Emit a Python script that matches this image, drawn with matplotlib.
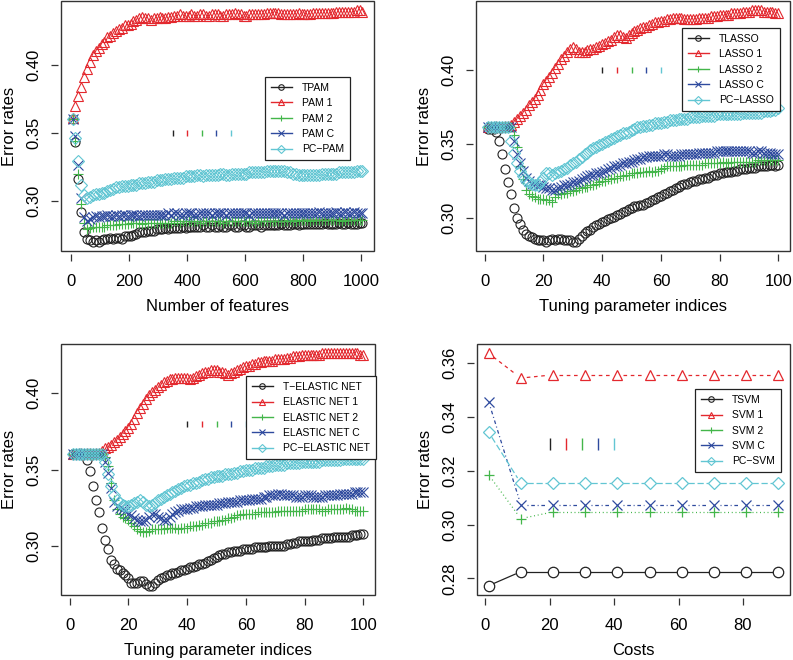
import numpy as np
import matplotlib
matplotlib.use("Agg")
import matplotlib.pyplot as plt
from matplotlib.lines import Line2D
from matplotlib.patches import Rectangle

plt.rcParams["font.family"] = ["Liberation Sans", "DejaVu Sans"]

W, H = 793, 660
FRAME = "#333333"
COLORS = ["#222222", "#E3282E", "#43B64A", "#2E4A9E", "#62C6D3"]
MARKERS = ["o", "^", "+", "x", "D"]

# ---------------------------------------------------------------- data
# panel 1: PAM family vs number of features
FEATURES = list(range(5, 1006, 10))
TPAM = [
    0.360, 0.343, 0.316, 0.292, 0.277, 0.272, 0.271, 0.270, 0.271, 0.270,
    0.271, 0.272, 0.272, 0.273, 0.272, 0.273, 0.273, 0.272, 0.274, 0.274,
    0.274, 0.275, 0.276, 0.277, 0.277, 0.277, 0.278, 0.278, 0.278, 0.279,
    0.279, 0.279, 0.280, 0.279, 0.280, 0.280, 0.280, 0.280, 0.281, 0.280,
    0.281, 0.281, 0.281, 0.281, 0.281, 0.282, 0.281, 0.281, 0.282, 0.281,
    0.281, 0.282, 0.281, 0.281, 0.282, 0.282, 0.281, 0.281, 0.282, 0.282,
    0.281, 0.281, 0.282, 0.282, 0.282, 0.281, 0.282, 0.282, 0.282, 0.282,
    0.282, 0.282, 0.283, 0.282, 0.282, 0.282, 0.283, 0.283, 0.282, 0.283,
    0.283, 0.283, 0.283, 0.283, 0.283, 0.283, 0.283, 0.284, 0.283, 0.283,
    0.283, 0.283, 0.284, 0.283, 0.283, 0.284, 0.283, 0.283, 0.283, 0.284,
    0.284]
PAM1 = [
    0.361, 0.370, 0.377, 0.384, 0.391, 0.397, 0.402, 0.407, 0.410, 0.412,
    0.415, 0.417, 0.420, 0.421, 0.423, 0.425, 0.426, 0.427, 0.429, 0.429,
    0.430, 0.432, 0.433, 0.434, 0.435, 0.434, 0.434, 0.433, 0.434, 0.434,
    0.435, 0.434, 0.434, 0.435, 0.435, 0.436, 0.436, 0.437, 0.436, 0.436,
    0.436, 0.437, 0.436, 0.436, 0.437, 0.437, 0.436, 0.436, 0.437, 0.437,
    0.437, 0.436, 0.436, 0.437, 0.437, 0.437, 0.438, 0.437, 0.437, 0.436,
    0.436, 0.437, 0.437, 0.437, 0.437, 0.437, 0.437, 0.438, 0.438, 0.438,
    0.438, 0.438, 0.437, 0.437, 0.437, 0.437, 0.437, 0.437, 0.438, 0.437,
    0.437, 0.437, 0.437, 0.438, 0.438, 0.438, 0.438, 0.438, 0.438, 0.438,
    0.438, 0.439, 0.439, 0.439, 0.439, 0.439, 0.439, 0.439, 0.440, 0.440,
    0.439]
PAM2 = [
    0.360, 0.344, 0.320, 0.298, 0.284, 0.279, 0.280, 0.281, 0.281, 0.281,
    0.281, 0.281, 0.282, 0.282, 0.282, 0.282, 0.283, 0.283, 0.283, 0.283,
    0.284, 0.284, 0.284, 0.284, 0.283, 0.284, 0.284, 0.284, 0.284, 0.284,
    0.284, 0.284, 0.284, 0.284, 0.284, 0.285, 0.285, 0.284, 0.285, 0.285,
    0.285, 0.285, 0.285, 0.285, 0.284, 0.285, 0.285, 0.285, 0.285, 0.285,
    0.285, 0.285, 0.284, 0.285, 0.285, 0.285, 0.285, 0.285, 0.285, 0.285,
    0.285, 0.285, 0.285, 0.284, 0.285, 0.285, 0.285, 0.285, 0.285, 0.285,
    0.285, 0.285, 0.285, 0.285, 0.285, 0.286, 0.285, 0.285, 0.286, 0.286,
    0.286, 0.286, 0.285, 0.286, 0.286, 0.286, 0.286, 0.286, 0.286, 0.286,
    0.286, 0.286, 0.286, 0.285, 0.286, 0.286, 0.286, 0.286, 0.286, 0.286,
    0.286]
PAMC = [
    0.360, 0.348, 0.326, 0.302, 0.288, 0.285, 0.287, 0.288, 0.289, 0.288,
    0.289, 0.289, 0.290, 0.289, 0.289, 0.290, 0.289, 0.290, 0.290, 0.289,
    0.290, 0.290, 0.290, 0.289, 0.290, 0.290, 0.290, 0.290, 0.290, 0.290,
    0.290, 0.290, 0.290, 0.291, 0.290, 0.291, 0.291, 0.290, 0.290, 0.291,
    0.291, 0.291, 0.290, 0.290, 0.291, 0.291, 0.291, 0.291, 0.290, 0.291,
    0.291, 0.291, 0.291, 0.290, 0.291, 0.291, 0.291, 0.291, 0.291, 0.291,
    0.291, 0.290, 0.291, 0.291, 0.291, 0.291, 0.291, 0.291, 0.291, 0.291,
    0.291, 0.291, 0.291, 0.290, 0.291, 0.291, 0.291, 0.291, 0.291, 0.291,
    0.291, 0.291, 0.291, 0.291, 0.291, 0.292, 0.291, 0.291, 0.291, 0.291,
    0.291, 0.292, 0.291, 0.291, 0.292, 0.291, 0.291, 0.292, 0.291, 0.291,
    0.291]
PCPAM = [
    0.360, 0.346, 0.329, 0.312, 0.304, 0.302, 0.303, 0.304, 0.305, 0.305,
    0.306, 0.306, 0.307, 0.308, 0.309, 0.310, 0.310, 0.311, 0.311, 0.311,
    0.312, 0.312, 0.312, 0.313, 0.313, 0.313, 0.314, 0.314, 0.314, 0.315,
    0.315, 0.315, 0.316, 0.316, 0.316, 0.317, 0.317, 0.317, 0.317, 0.318,
    0.318, 0.318, 0.318, 0.319, 0.319, 0.318, 0.319, 0.319, 0.319, 0.319,
    0.319, 0.320, 0.320, 0.319, 0.319, 0.320, 0.320, 0.320, 0.320, 0.320,
    0.320, 0.321, 0.321, 0.321, 0.321, 0.321, 0.321, 0.322, 0.322, 0.322,
    0.322, 0.322, 0.322, 0.322, 0.321, 0.321, 0.320, 0.320, 0.319, 0.319,
    0.319, 0.319, 0.319, 0.319, 0.319, 0.319, 0.320, 0.320, 0.320, 0.320,
    0.320, 0.320, 0.321, 0.321, 0.321, 0.321, 0.321, 0.321, 0.322, 0.322,
    0.322]

# panel 2: LASSO family vs tuning parameter index
INDICES = list(range(1, 101))
TLASSO = [
    0.360, 0.360, 0.360, 0.358, 0.352, 0.343, 0.333, 0.324, 0.316, 0.307,
    0.300, 0.296, 0.292, 0.289, 0.288, 0.287, 0.286, 0.285, 0.285, 0.285,
    0.284, 0.285, 0.286, 0.285, 0.286, 0.286, 0.285, 0.285, 0.285, 0.284,
    0.284, 0.286, 0.288, 0.290, 0.291, 0.292, 0.294, 0.295, 0.296, 0.297,
    0.298, 0.299, 0.300, 0.301, 0.302, 0.303, 0.304, 0.305, 0.306, 0.307,
    0.308, 0.308, 0.309, 0.309, 0.310, 0.311, 0.312, 0.313, 0.314, 0.315,
    0.316, 0.317, 0.318, 0.319, 0.320, 0.321, 0.322, 0.323, 0.323, 0.324,
    0.325, 0.325, 0.326, 0.326, 0.327, 0.327, 0.328, 0.329, 0.329, 0.330,
    0.330, 0.331, 0.331, 0.331, 0.332, 0.332, 0.333, 0.333, 0.333, 0.334,
    0.334, 0.334, 0.335, 0.335, 0.335, 0.335, 0.336, 0.336, 0.335, 0.336]
LASSO1 = [
    0.361, 0.361, 0.361, 0.362, 0.361, 0.361, 0.362, 0.362, 0.363, 0.365,
    0.367, 0.369, 0.371, 0.373, 0.376, 0.378, 0.380, 0.383, 0.386, 0.390,
    0.392, 0.395, 0.398, 0.401, 0.404, 0.407, 0.409, 0.412, 0.414, 0.415,
    0.414, 0.412, 0.412, 0.412, 0.413, 0.414, 0.414, 0.415, 0.416, 0.417,
    0.418, 0.419, 0.420, 0.422, 0.423, 0.423, 0.422, 0.421, 0.423, 0.425,
    0.426, 0.427, 0.428, 0.429, 0.429, 0.430, 0.431, 0.432, 0.432, 0.433,
    0.433, 0.434, 0.434, 0.435, 0.435, 0.435, 0.435, 0.434, 0.434, 0.434,
    0.434, 0.434, 0.435, 0.435, 0.435, 0.435, 0.436, 0.436, 0.436, 0.437,
    0.437, 0.437, 0.437, 0.438, 0.438, 0.438, 0.438, 0.439, 0.439, 0.439,
    0.440, 0.440, 0.440, 0.440, 0.439, 0.439, 0.439, 0.439, 0.438, 0.438]
LASSO2 = [
    0.361, 0.361, 0.361, 0.361, 0.361, 0.361, 0.361, 0.361, 0.361, 0.356,
    0.348, 0.335, 0.326, 0.319, 0.316, 0.315, 0.314, 0.313, 0.313, 0.313,
    0.312, 0.312, 0.311, 0.314, 0.316, 0.316, 0.317, 0.317, 0.318, 0.318,
    0.319, 0.320, 0.320, 0.321, 0.321, 0.322, 0.322, 0.323, 0.324, 0.325,
    0.325, 0.326, 0.326, 0.327, 0.327, 0.328, 0.328, 0.329, 0.329, 0.330,
    0.330, 0.330, 0.331, 0.331, 0.331, 0.332, 0.331, 0.332, 0.332, 0.333,
    0.334, 0.335, 0.335, 0.335, 0.335, 0.335, 0.335, 0.336, 0.336, 0.336,
    0.336, 0.336, 0.336, 0.336, 0.337, 0.337, 0.337, 0.337, 0.337, 0.337,
    0.338, 0.337, 0.337, 0.338, 0.338, 0.338, 0.338, 0.338, 0.338, 0.338,
    0.338, 0.338, 0.339, 0.339, 0.339, 0.339, 0.339, 0.339, 0.339, 0.339]
LASSOC = [
    0.361, 0.361, 0.361, 0.361, 0.361, 0.361, 0.361, 0.361, 0.361, 0.352,
    0.343, 0.337, 0.332, 0.327, 0.325, 0.323, 0.323, 0.322, 0.322, 0.321,
    0.320, 0.320, 0.319, 0.319, 0.320, 0.321, 0.322, 0.322, 0.323, 0.324,
    0.324, 0.325, 0.326, 0.327, 0.328, 0.329, 0.329, 0.330, 0.330, 0.331,
    0.332, 0.333, 0.334, 0.335, 0.335, 0.336, 0.337, 0.337, 0.338, 0.338,
    0.339, 0.340, 0.340, 0.341, 0.341, 0.342, 0.342, 0.342, 0.342, 0.342,
    0.343, 0.343, 0.342, 0.342, 0.342, 0.342, 0.343, 0.343, 0.343, 0.343,
    0.343, 0.343, 0.344, 0.344, 0.344, 0.344, 0.344, 0.344, 0.345, 0.345,
    0.345, 0.345, 0.345, 0.345, 0.345, 0.345, 0.345, 0.345, 0.345, 0.345,
    0.344, 0.344, 0.345, 0.345, 0.344, 0.344, 0.344, 0.343, 0.343, 0.343]
PCLASSO = [
    0.361, 0.361, 0.361, 0.361, 0.361, 0.361, 0.361, 0.361, 0.352, 0.344,
    0.337, 0.332, 0.328, 0.325, 0.324, 0.323, 0.322, 0.322, 0.324, 0.327,
    0.330, 0.330, 0.329, 0.330, 0.331, 0.332, 0.333, 0.334, 0.336, 0.337,
    0.338, 0.340, 0.341, 0.343, 0.344, 0.346, 0.347, 0.348, 0.349, 0.350,
    0.351, 0.352, 0.353, 0.354, 0.355, 0.356, 0.357, 0.357, 0.358, 0.359,
    0.360, 0.361, 0.361, 0.362, 0.362, 0.363, 0.363, 0.364, 0.364, 0.364,
    0.365, 0.365, 0.366, 0.366, 0.366, 0.367, 0.367, 0.367, 0.367, 0.368,
    0.368, 0.368, 0.368, 0.369, 0.369, 0.369, 0.369, 0.369, 0.370, 0.370,
    0.370, 0.370, 0.370, 0.370, 0.370, 0.370, 0.370, 0.371, 0.371, 0.371,
    0.371, 0.371, 0.371, 0.371, 0.372, 0.372, 0.372, 0.373, 0.373, 0.374]

# panel 3: elastic net family vs tuning parameter index
TEN = [
    0.360, 0.360, 0.360, 0.360, 0.360, 0.356, 0.349, 0.339, 0.330, 0.322,
    0.312, 0.304, 0.298, 0.291, 0.288, 0.285, 0.284, 0.282, 0.281, 0.279,
    0.276, 0.276, 0.276, 0.277, 0.277, 0.275, 0.274, 0.274, 0.276, 0.278,
    0.279, 0.280, 0.281, 0.281, 0.282, 0.282, 0.283, 0.284, 0.284, 0.285,
    0.286, 0.286, 0.287, 0.288, 0.288, 0.289, 0.290, 0.291, 0.292, 0.293,
    0.294, 0.295, 0.295, 0.296, 0.296, 0.297, 0.297, 0.297, 0.298, 0.298,
    0.298, 0.298, 0.299, 0.299, 0.299, 0.299, 0.299, 0.300, 0.300, 0.300,
    0.300, 0.300, 0.300, 0.301, 0.301, 0.302, 0.302, 0.303, 0.303, 0.303,
    0.303, 0.303, 0.304, 0.304, 0.304, 0.305, 0.305, 0.305, 0.305, 0.306,
    0.306, 0.306, 0.306, 0.306, 0.306, 0.307, 0.307, 0.307, 0.308, 0.308]
EN1 = [
    0.360, 0.360, 0.361, 0.361, 0.360, 0.361, 0.361, 0.360, 0.361, 0.361,
    0.362, 0.364, 0.365, 0.366, 0.368, 0.369, 0.371, 0.373, 0.375, 0.377,
    0.380, 0.383, 0.387, 0.390, 0.393, 0.396, 0.399, 0.401, 0.402, 0.404,
    0.405, 0.407, 0.408, 0.409, 0.409, 0.410, 0.410, 0.410, 0.410, 0.410,
    0.409, 0.410, 0.411, 0.412, 0.413, 0.414, 0.414, 0.415, 0.415, 0.415,
    0.414, 0.414, 0.413, 0.412, 0.413, 0.414, 0.415, 0.416, 0.417, 0.418,
    0.418, 0.419, 0.419, 0.420, 0.420, 0.421, 0.421, 0.421, 0.421, 0.422,
    0.422, 0.422, 0.422, 0.423, 0.423, 0.424, 0.424, 0.424, 0.425, 0.425,
    0.425, 0.425, 0.425, 0.425, 0.425, 0.426, 0.426, 0.426, 0.426, 0.426,
    0.426, 0.426, 0.426, 0.426, 0.426, 0.426, 0.426, 0.426, 0.425, 0.425]
EN2 = [
    0.360, 0.360, 0.360, 0.360, 0.360, 0.360, 0.360, 0.360, 0.360, 0.360,
    0.360, 0.358, 0.352, 0.341, 0.330, 0.324, 0.321, 0.319, 0.318, 0.317,
    0.315, 0.313, 0.311, 0.310, 0.309, 0.309, 0.310, 0.311, 0.311, 0.311,
    0.311, 0.311, 0.312, 0.312, 0.312, 0.312, 0.311, 0.312, 0.312, 0.312,
    0.313, 0.313, 0.313, 0.314, 0.314, 0.315, 0.315, 0.315, 0.316, 0.316,
    0.316, 0.317, 0.317, 0.318, 0.318, 0.319, 0.320, 0.320, 0.321, 0.321,
    0.321, 0.321, 0.321, 0.322, 0.322, 0.322, 0.322, 0.322, 0.322, 0.322,
    0.323, 0.323, 0.323, 0.323, 0.323, 0.323, 0.323, 0.323, 0.323, 0.324,
    0.324, 0.324, 0.324, 0.324, 0.324, 0.323, 0.323, 0.324, 0.324, 0.324,
    0.324, 0.324, 0.324, 0.325, 0.324, 0.324, 0.323, 0.323, 0.323, 0.323]
ENC = [
    0.360, 0.360, 0.360, 0.360, 0.360, 0.360, 0.360, 0.360, 0.360, 0.360,
    0.360, 0.355, 0.348, 0.338, 0.329, 0.326, 0.325, 0.324, 0.323, 0.321,
    0.320, 0.318, 0.317, 0.316, 0.316, 0.317, 0.319, 0.321, 0.321, 0.319,
    0.318, 0.317, 0.317, 0.319, 0.321, 0.322, 0.323, 0.324, 0.324, 0.324,
    0.325, 0.325, 0.326, 0.326, 0.326, 0.327, 0.327, 0.327, 0.327, 0.327,
    0.328, 0.328, 0.328, 0.329, 0.329, 0.329, 0.329, 0.330, 0.330, 0.330,
    0.330, 0.331, 0.331, 0.331, 0.331, 0.332, 0.332, 0.333, 0.333, 0.333,
    0.334, 0.334, 0.333, 0.333, 0.333, 0.333, 0.332, 0.332, 0.332, 0.333,
    0.333, 0.333, 0.332, 0.332, 0.332, 0.332, 0.333, 0.333, 0.333, 0.333,
    0.333, 0.334, 0.334, 0.334, 0.334, 0.334, 0.335, 0.335, 0.335, 0.335]
PCEN = [
    0.360, 0.360, 0.360, 0.360, 0.360, 0.360, 0.360, 0.360, 0.360, 0.360,
    0.360, 0.355, 0.347, 0.339, 0.333, 0.330, 0.328, 0.327, 0.326, 0.326,
    0.327, 0.328, 0.329, 0.330, 0.329, 0.327, 0.326, 0.327, 0.328, 0.330,
    0.331, 0.332, 0.333, 0.334, 0.335, 0.336, 0.337, 0.338, 0.339, 0.340,
    0.340, 0.341, 0.341, 0.342, 0.343, 0.344, 0.344, 0.345, 0.345, 0.346,
    0.346, 0.346, 0.347, 0.347, 0.347, 0.348, 0.348, 0.349, 0.349, 0.350,
    0.350, 0.350, 0.351, 0.351, 0.351, 0.351, 0.352, 0.352, 0.352, 0.353,
    0.353, 0.353, 0.353, 0.354, 0.354, 0.354, 0.354, 0.354, 0.355, 0.355,
    0.355, 0.355, 0.355, 0.355, 0.355, 0.356, 0.356, 0.356, 0.356, 0.356,
    0.356, 0.356, 0.357, 0.357, 0.357, 0.357, 0.357, 0.357, 0.357, 0.357]

# panel 4: SVM family vs costs
COSTS = [1, 11, 21, 31, 41, 51, 61, 71, 81, 91]
TSVM = [0.2773, 0.2825, 0.2825, 0.2825, 0.2825, 0.2825, 0.2825, 0.2825, 0.2825, 0.2825]
SVM1 = [0.3636, 0.3544, 0.3556, 0.3556, 0.3556, 0.3556, 0.3556, 0.3556, 0.3556, 0.3556]
SVM2 = [0.3185, 0.3022, 0.3047, 0.3047, 0.3047, 0.3047, 0.3047, 0.3047, 0.3047, 0.3047]
SVMC = [0.3457, 0.3074, 0.3074, 0.3074, 0.3074, 0.3074, 0.3074, 0.3074, 0.3074, 0.3074]
PCSVM = [0.3343, 0.3154, 0.3154, 0.3154, 0.3154, 0.3154, 0.3154, 0.3154, 0.3154, 0.3154]

# stray colour ticks printed inside each panel
MARK_X1, MARK_Y1 = [350, 400, 450, 500, 550], 0.35
MARK_X2, MARK_Y2 = [40, 45, 50, 55, 60], 0.40
MARK_X3, MARK_Y3 = [40, 45, 50, 55, 60], 0.38
MARK_X4, MARK_Y4 = [20, 25, 30, 35, 40], 0.33

LAB1 = ["TPAM", "PAM 1", "PAM 2", "PAM C", "PC\u2212PAM"]
LAB2 = ["TLASSO", "LASSO 1", "LASSO 2", "LASSO C", "PC\u2212LASSO"]
LAB3 = ["T\u2212ELASTIC NET", "ELASTIC NET 1", "ELASTIC NET 2",
        "ELASTIC NET C", "PC\u2212ELASTIC NET"]
LAB4 = ["TSVM", "SVM 1", "SVM 2", "SVM C", "PC\u2212SVM"]

# R line types 1..5
LTYS = ["-", (0, (2.9, 2.9)), (0, (0.8, 2.2)), (0, (0.8, 2.2, 2.9, 2.2)),
        (0, (5.0, 2.2))]
MSIZE = [6.5, 7.5, 7.5, 6.5, 5.8]

fig = plt.figure(figsize=(W / 100, H / 100), dpi=100)


def panel(l, t, r, b):
    return fig.add_axes([l / W, 1 - b / H, (r - l) / W, (b - t) / H])


def rlim(vals):
    lo, hi = min(vals), max(vals)
    pad = 0.04 * (hi - lo)
    return lo - pad, hi + pad


def style(ax, xticks, yticks, xlabel):
    for s in ax.spines.values():
        s.set_visible(False)
    ax.spines["left"].set_position(("outward", 2.5))
    ax.spines["bottom"].set_position(("outward", 2.5))
    ax.add_patch(Rectangle((0, 0), 1, 1, transform=ax.transAxes, fill=False,
                           ec=FRAME, lw=1.0, clip_on=False, zorder=6))
    ax.set_xticks(xticks)
    ax.set_yticks(yticks)
    ax.set_yticklabels([f"{v:.2f}" for v in yticks], rotation=90, va="center")
    ax.tick_params(direction="out", length=5, width=0.9, color=FRAME,
                   labelsize=12)
    ax.tick_params(axis="x", pad=9)
    ax.tick_params(axis="y", pad=6.5)
    ax.set_xlabel(xlabel, fontsize=12, labelpad=7)
    ax.set_ylabel("Error rates", fontsize=12, labelpad=7)


def legend(ax, labels, left, top):
    handles = [Line2D([0], [0], color=c, marker=m, ms=4, mfc="none", mew=0.8,
                      lw=1.0) for c, m in zip(COLORS, MARKERS)]
    leg = ax.legend(handles, labels, loc="upper left",
                    bbox_to_anchor=(left / W, 1 - top / H),
                    bbox_transform=fig.transFigure, borderaxespad=0,
                    fancybox=False, framealpha=1, edgecolor="#222222",
                    fontsize=7.5, handlelength=2.0, handletextpad=1.0,
                    labelspacing=0.52, borderpad=0.55)
    leg.get_frame().set_linewidth(0.9)
    leg.set_zorder(10)


def marks(ax, xs, y, ms):
    for x, c in zip(xs, COLORS):
        ax.plot([x], [y], marker="|", ms=ms, mew=1.0, color=c, ls="none",
                zorder=3)


def points(ax, x, series):
    for y, c, m, s in zip(series, COLORS, MARKERS, MSIZE):
        ax.plot(x, y, ls="none", marker=m, ms=s, mfc="none", mec=c, mew=0.8,
                zorder=4)


def gapped(ax, x, y, gap, **kw):
    pts = ax.transData.transform(np.column_stack([x, y]))
    inv = ax.transData.inverted()
    for p, q in zip(pts[:-1], pts[1:]):
        d = q - p
        L = np.hypot(d[0], d[1])
        if L <= 2 * gap:
            continue
        u = d / L
        seg = inv.transform(np.vstack([p + u * gap, q - u * gap]))
        ax.plot(seg[:, 0], seg[:, 1], **kw)


# ---------------------------------------------------------------- panel 1
ax1 = panel(61, 1, 374, 251)
s1 = [TPAM, PAM1, PAM2, PAMC, PCPAM]
ax1.set_xlim(*rlim(FEATURES))
ax1.set_ylim(*rlim(sum(s1, [])))
points(ax1, FEATURES, s1)
marks(ax1, MARK_X1, MARK_Y1, 5)
style(ax1, range(0, 1001, 200), [0.30, 0.35, 0.40], "Number of features")
legend(ax1, LAB1, 265, 77)

# ---------------------------------------------------------------- panel 2
ax2 = panel(476, 1, 790, 251)
s2 = [TLASSO, LASSO1, LASSO2, LASSOC, PCLASSO]
ax2.set_xlim(*rlim(INDICES))
ax2.set_ylim(*rlim(sum(s2, [])))
points(ax2, INDICES, s2)
marks(ax2, MARK_X2, MARK_Y2, 5)
style(ax2, range(0, 101, 20), [0.30, 0.35, 0.40], "Tuning parameter indices")
legend(ax2, LAB2, 682, 28)

# ---------------------------------------------------------------- panel 3
ax3 = panel(61, 344, 375, 595)
s3 = [TEN, EN1, EN2, ENC, PCEN]
ax3.set_xlim(*rlim(INDICES))
ax3.set_ylim(*rlim(sum(s3, [])))
points(ax3, INDICES, s3)
marks(ax3, MARK_X3, MARK_Y3, 5)
style(ax3, range(0, 101, 20), [0.30, 0.35, 0.40], "Tuning parameter indices")
legend(ax3, LAB3, 246, 376)

# ---------------------------------------------------------------- panel 4
ax4 = panel(477, 344, 790, 595)
s4 = [TSVM, SVM1, SVM2, SVMC, PCSVM]
ax4.set_xlim(*rlim(COSTS))
ax4.set_ylim(*rlim(sum(s4, [])))
for y, c, m, lt in zip(s4, COLORS, MARKERS, LTYS):
    gapped(ax4, COSTS, y, 6.0, color=c, lw=0.9, ls=lt, zorder=3)
    ax4.plot(COSTS, y, ls="none", marker=m, ms=7.5 if m != "D" else 6.5,
             mfc="none", mec=c, mew=0.9, zorder=4)
marks(ax4, MARK_X4, MARK_Y4, 9)
style(ax4, range(0, 81, 20), [0.28, 0.30, 0.32, 0.34, 0.36], "Costs")
legend(ax4, LAB4, 695, 389)

fig.savefig("out.png", dpi=100)
